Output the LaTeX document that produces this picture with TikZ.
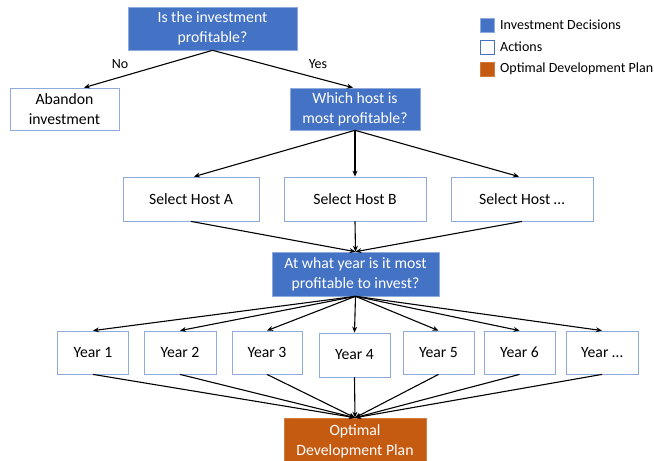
\documentclass[tikz,border=0pt]{standalone}
\usepackage{fontspec}
\setmainfont{Carlito}
\usetikzlibrary{arrows.meta,calc}
\definecolor{dblue}{HTML}{4472C4}
\definecolor{lblue}{HTML}{8FAADC}
\definecolor{dorange}{HTML}{C55A11}
\tikzset{
  base/.style={align=center, inner sep=0pt, font=\fontsize{15.7}{20}\selectfont},
  dec/.style={base, fill=dblue, draw=lblue, line width=0.6pt, text=white},
  act/.style={base, fill=white, draw=lblue, line width=0.8pt, text=black},
  opt/.style={base, fill=dorange, draw=dorange!80!white, line width=0.6pt, text=white},
  conn/.style={-{Stealth[length=6pt,width=5pt]}, line width=1.1pt},
  lab/.style={font=\fontsize{14}{16}\selectfont, inner sep=0pt},
  legsq/.style={minimum width=14pt, minimum height=14pt, inner sep=0pt},
}
\begin{document}
\begin{tikzpicture}[x=1pt,y=1pt]
\clip (0,0) rectangle (654,-461);
\fill[white] (0,0) rectangle (654,-461);

% decisions
\node[dec, minimum width=169pt, minimum height=43pt] (top) at (212.5,-28.5) {Is the investment\\profitable?};
\node[act, minimum width=109pt, minimum height=42pt] (aban) at (64.5,-109) {Abandon\\investment};
\node[dec, minimum width=130pt, minimum height=42pt] (which) at (355,-109) {Which host is\\most profitable?};

\node[act, minimum width=136pt, minimum height=44pt] (sa) at (191,-199) {Select Host A};
\node[act, minimum width=142pt, minimum height=44pt] (sb) at (355,-199) {Select Host B};
\node[act, minimum width=142pt, minimum height=44pt] (sc) at (522,-199) {Select Host \dots};

\node[dec, minimum width=167pt, minimum height=44pt] (yq) at (355.5,-274) {At what year is it most\\profitable to invest?};

\node[act, minimum width=71pt, minimum height=43pt] (y1) at (93,-352.5) {Year 1};
\node[act, minimum width=72pt, minimum height=43pt] (y2) at (180,-352.5) {Year 2};
\node[act, minimum width=70pt, minimum height=43pt] (y3) at (267,-352.5) {Year 3};
\node[act, minimum width=71pt, minimum height=44pt] (y4) at (354.5,-355) {Year 4};
\node[act, minimum width=71pt, minimum height=43pt] (y5) at (438.5,-352.5) {Year 5};
\node[act, minimum width=71pt, minimum height=43pt] (y6) at (519.5,-352.5) {Year 6};
\node[act, minimum width=72pt, minimum height=43pt] (y7) at (602,-352.5) {Year \dots};

\node[opt, minimum width=142pt, minimum height=47pt] (plan) at (355,-441.5) {Optimal\\Development Plan};

% connectors
\coordinate (abt) at ($(aban.north)+(19.5,0)$);
\draw[conn] (top.south) -- (abt);
\draw[conn] (top.south) -- ($(which.north)+(-2,0)$);
\node[lab] (no) at (120,-64) {No};
\node[lab] (yes) at (318,-64) {Yes};

\draw[conn] (which.south) -- ($(sa.north)+(3,0)$);
\draw[conn] (which.south) -- (sb.north);
\draw[conn] (which.south) -- ($(sc.north)+(-3,0)$);

\foreach \s in {sa,sb,sc} \draw[conn] (\s.south) -- (yq.north);
\foreach \y in {y1,y2,y3,y4,y5,y6,y7} \draw[conn] (yq.south) -- (\y.north);
\foreach \y in {y1,y2,y3,y4,y5,y6,y7} \draw[conn] (\y.south) -- (plan.north);

% legend
\node[legsq, fill=dblue, draw=lblue] (l1) at (487,-25) {};
\node[legsq, fill=white, draw=dblue, line width=0.8pt] (l2) at (487,-47) {};
\node[legsq, fill=dorange, draw=dorange!80!white] (l3) at (487,-69) {};
\node[lab, anchor=west] (t1) at (500,-25) {Investment Decisions};
\node[lab, anchor=west] (t2) at (500,-47) {Actions};
\node[lab, anchor=west] (t3) at (500,-69) {Optimal Development Plan};
\end{tikzpicture}
\end{document}
